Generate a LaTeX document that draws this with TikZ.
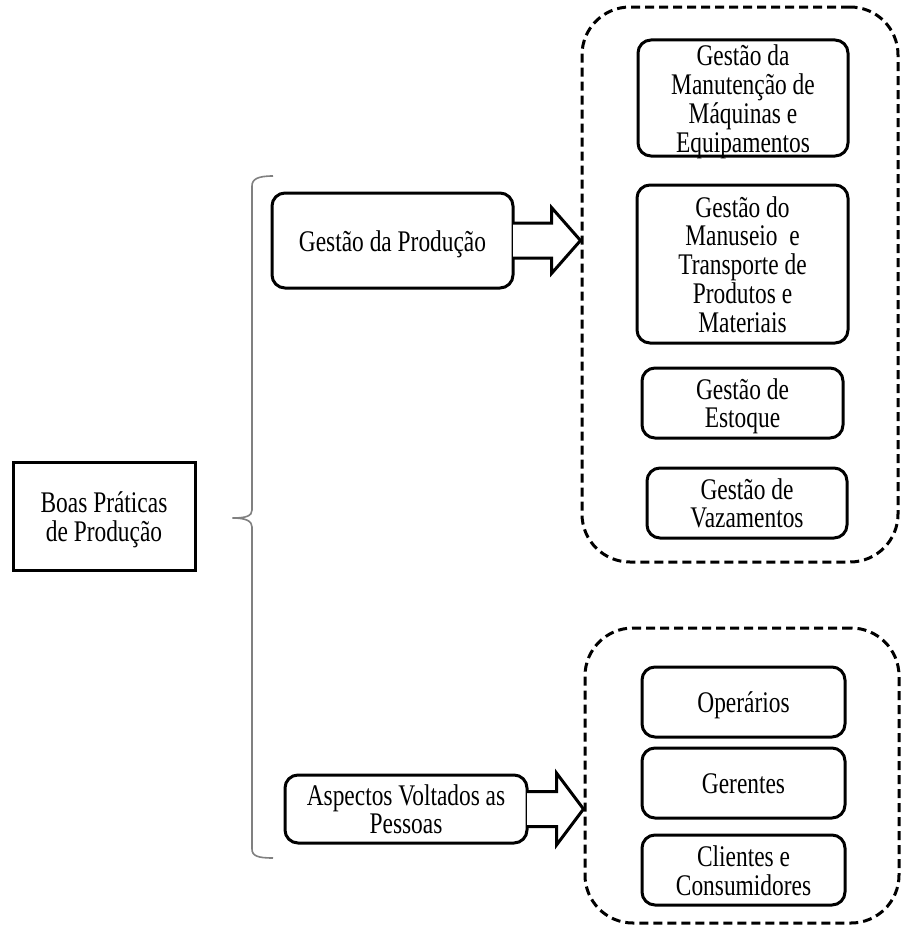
\documentclass[tikz,border=0pt]{standalone}
\usepackage{fontspec}
\setmainfont{Liberation Serif}
\usetikzlibrary{calc}
% tall, narrow lettering: centred lines stretched vertically, set a little low
\newcommand\tallText[1]{\raisebox{-4.5pt}[\height][\depth]{\scalebox{1}[1.28]{\fontsize{23.4}{22}\selectfont\begin{tabular}{@{}c@{}}#1\end{tabular}}}}
\begin{document}
\begin{tikzpicture}[x=1pt,y=-1pt,
  txt/.style={align=center, inner sep=0pt},
  rootbox/.style={txt, draw, line width=3pt, minimum width=#1},
  roundbox/.style={txt, draw, line width=3pt, rounded corners=13pt},
  groupbox/.style={draw, line width=3pt, dash pattern=on 9pt off 5pt, rounded corners=48pt},
  blockarrow/.style={draw, line width=3pt, fill=white, line join=miter},
  bracket/.style={draw=black!50, line width=1.6pt}
]
\useasboundingbox (0,0) rectangle (901,926);

% root
\node[rootbox=182pt, minimum height=108pt] (root) at (104,516) {\tallText{Boas Práticas\\de Produção}};

% second level
\node[roundbox, minimum width=241pt, minimum height=95pt] (prod) at (392.5,240.5) {\tallText{Gestão da Produção}};
\node[roundbox, minimum width=242pt, minimum height=68pt] (pess) at (406,809) {\tallText{Aspectos Voltados as\\Pessoas}};

% group frames
\node[groupbox, minimum width=316pt, minimum height=555pt] (gA) at (740,284.5) {};
\node[groupbox, minimum width=314pt, minimum height=295pt] (gB) at (742,775.5) {};

% items of the production group
\node[roundbox, minimum width=210pt, minimum height=116pt] (m1) at (743,98) {\tallText{Gestão da\\Manutenção de\\Máquinas e\\Equipamentos}};
\node[roundbox, minimum width=211pt, minimum height=158pt] (m2) at (742.5,264) {\tallText{Gestão do\\Manuseio \ e\\Transporte de\\Produtos e\\Materiais}};
\node[roundbox, minimum width=201pt, minimum height=70pt] (m3) at (742.5,403) {\tallText{Gestão de\\Estoque}};
\node[roundbox, minimum width=200pt, minimum height=70pt] (m4) at (747,503) {\tallText{Gestão de\\Vazamentos}};

% items of the people group
\node[roundbox, minimum width=203pt, minimum height=70pt] (p1) at (743.5,702) {\tallText{Operários}};
\node[roundbox, minimum width=203pt, minimum height=70pt] (p2) at (743.5,783) {\tallText{Gerentes}};
\node[roundbox, minimum width=203pt, minimum height=70pt] (p3) at (743.5,870) {\tallText{Clientes e\\Consumidores}};

% block arrows into the group frames
\path[blockarrow]
  ($(prod.east)+(-1.5,-17.5)$) -- ($(prod.east)+(37,-17.5)$) -- ($(prod.east)+(37,-33)$)
  -- ($(gA.west |- prod.east)$) -- ($(prod.east)+(37,33)$) -- ($(prod.east)+(37,17.5)$)
  -- ($(prod.east)+(-1.5,17.5)$);
\path[blockarrow]
  ($(pess.east)+(-1.5,-17.5)$) -- ($(pess.east)+(28,-17.5)$) -- ($(pess.east)+(28,-36)$)
  -- ($(gB.west |- pess.east)$) -- ($(pess.east)+(28,36)$) -- ($(pess.east)+(28,17.5)$)
  -- ($(pess.east)+(-1.5,17.5)$);

% bracket grouping the two branches
\coordinate (bt) at (273,176);
\coordinate (bb) at (273,858);
\coordinate (bm) at ($(root.east)+(36,2)$);
\draw[bracket] (bt) .. controls (258,176) and (252,179) .. (252,186)
  -- (252,510) .. controls (252,516) and (246,518) .. (bm)
  .. controls (246,518) and (252,521) .. (252,527)
  -- (252,849) .. controls (252,856) and (258,858) .. (bb);
\end{tikzpicture}
\end{document}
